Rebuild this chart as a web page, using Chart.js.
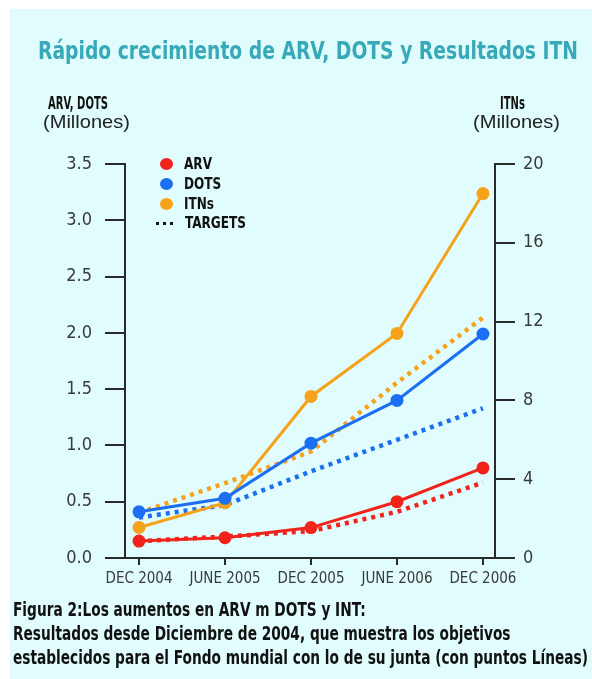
<!DOCTYPE html>
<html>
<head>
<meta charset="utf-8">
<script src="https://cdn.jsdelivr.net/npm/chart.js@4/dist/chart.umd.min.js"></script>
<style>
  html, body { margin: 0; padding: 0; background: #fff; }
  #page { position: absolute; left: 10px; top: 9px; width: 582px; height: 670px; background: #e0fcfc; }
  #wrap { position: absolute; left: 0; top: 0; width: 592px; height: 679px; }
  .t { position: absolute; white-space: nowrap; transform-origin: 0 0; font-family: 'DejaVu Sans Condensed', 'DejaVu Sans', sans-serif; }
  #title { top: 37px; font-size: 24px; font-weight: bold; color: #38a9b9; }
  .ax1 { font-weight: bold; font-size: 17px; color: #111; }
  .ax2 { font-family: 'Liberation Sans', Arial, sans-serif; font-size: 19px; color: #222; }
  .leg { font-weight: bold; font-size: 16px; color: #111; }
  .dot { position: absolute; width: 13px; height: 12px; border-radius: 50%; left: 160px; }
  .cap { font-weight: bold; font-size: 19px; color: #111; }
</style>
</head>
<body>
<div id="page"></div>
<div id="wrap"><canvas id="myChart" width="592" height="679"></canvas></div>

<div class="t" id="title" data-x="38" data-w="540">Rápido crecimiento de ARV, DOTS y Resultados ITN</div>
<div class="t ax1" data-x="48" data-w="60" data-g="ax" style="top:93px">ARV, DOTS</div>
<div class="t ax2" data-x="43" data-w="87" style="top:111px">(Millones)</div>
<div class="t ax1" data-x="500" data-g="ax" style="top:93px">ITNs</div>
<div class="t ax2" data-x="473" data-w="87" style="top:111px">(Millones)</div>

<div class="dot" style="top:158px;background:#f2231b"></div>
<div class="t leg" data-x="184" data-g="leg" style="top:154px">ARV</div>
<div class="dot" style="top:178px;background:#1c6ff2"></div>
<div class="t leg" data-x="184" data-g="leg" style="top:174px">DOTS</div>
<div class="dot" style="top:198px;background:#f7a21b"></div>
<div class="t leg" data-x="184" data-g="leg" style="top:194px">ITNs</div>
<div style="position:absolute;left:156px;top:222px;width:17px;border-top:3px dotted #111"></div>
<div class="t leg" data-x="185" data-w="61" data-g="leg" style="top:213px">TARGETS</div>

<div class="t cap" data-x="13" data-g="cap" style="top:598px">Figura 2:Los aumentos en ARV m DOTS y INT:</div>
<div class="t cap" data-x="13" data-g="cap" style="top:622px">Resultados desde Diciembre de 2004, que muestra los objetivos</div>
<div class="t cap" data-x="13" data-w="575" data-g="cap" style="top:646px">establecidos para el Fondo mundial con lo de su junta (con puntos Líneas)</div>

<script>
const periods = ['DEC 2004', 'JUNE 2005', 'DEC 2005', 'JUNE 2006', 'DEC 2006'];
const arv = [0.15, 0.18, 0.27, 0.50, 0.80];
const dots = [0.41, 0.53, 1.02, 1.40, 1.99];
const itns = [1.55, 2.8, 8.2, 11.4, 18.5];
const arvTarget = [0.15, 0.19, 0.24, 0.41, 0.67];
const dotsTarget = [0.36, 0.47, 0.77, 1.05, 1.33];
const itnsTarget = [2.3, 3.8, 5.4, 8.9, 12.2];

const leftTicks = [0, 0.5, 1.0, 1.5, 2.0, 2.5, 3.0, 3.5];
const rightTicks = [0, 4, 8, 12, 16, 20];

const font = "'DejaVu Sans Condensed', 'DejaVu Sans', sans-serif";
const RED = '#f2231b', BLUE = '#1c6ff2', ORANGE = '#f7a21b';

// squeeze the html labels to the width they have in the picture,
// labels of one group share the scale of the one that has data-w
const groupScale = {};
document.querySelectorAll('[data-w]').forEach(el => {
  const s = el.dataset.w / el.getBoundingClientRect().width;
  if (el.dataset.g) groupScale[el.dataset.g] = s;
  el.dataset.s = s;
});
document.querySelectorAll('.t').forEach(el => {
  el.style.left = el.dataset.x + 'px';
  const s = el.dataset.g ? groupScale[el.dataset.g] : el.dataset.s;
  if (s) el.style.transform = 'scaleX(' + s + ')';
});

function pts(arr) {
  return arr.map((v, i) => ({ x: i, y: v }));
}

function solid(label, arr, color, axis) {
  return {
    label: label, data: pts(arr), yAxisID: axis,
    borderColor: color, backgroundColor: color, borderWidth: 3,
    pointRadius: 6.5, pointHoverRadius: 6.5, pointBorderWidth: 0,
    tension: 0, order: 1
  };
}

function dotted(label, arr, color, axis) {
  return {
    label: label, data: pts(arr), yAxisID: axis,
    borderColor: color, borderWidth: 4.5, borderDash: [4, 5],
    pointRadius: 0, tension: 0, order: 2
  };
}

const ctx = document.getElementById('myChart');
new Chart(ctx, {
  type: 'line',
  data: {
    datasets: [
      dotted('ARV target', arvTarget, RED, 'y'),
      dotted('DOTS target', dotsTarget, BLUE, 'y'),
      dotted('ITNs target', itnsTarget, ORANGE, 'y2'),
      solid('ARV', arv, RED, 'y'),
      solid('DOTS', dots, BLUE, 'y'),
      solid('ITNs', itns, ORANGE, 'y2')
    ]
  },
  options: {
    responsive: false,
    animation: false,
    layout: { padding: { left: 0, right: 0, top: 164, bottom: 81 } },
    plugins: { legend: { display: false }, tooltip: { enabled: false } },
    scales: {
      x: {
        type: 'linear', min: -0.163, max: 4.14,
        afterFit: s => { s.height = 40; },
        border: { display: true, color: '#2a2a2a', width: 2 },
        grid: { drawOnChartArea: false, drawTicks: true, tickLength: 7, color: '#2a2a2a', lineWidth: 2 },
        afterBuildTicks: s => { s.ticks = periods.map((p, i) => ({ value: i })); },
        ticks: {
          autoSkip: false, maxRotation: 0, padding: 5, color: '#3a3a3a',
          font: { family: font, size: 15 },
          callback: v => periods[v]
        }
      },
      y: {
        position: 'left', min: 0, max: 3.5,
        afterFit: s => { s.width = 125; },
        afterBuildTicks: s => { s.ticks = leftTicks.map(v => ({ value: v })); },
        border: { display: true, color: '#2a2a2a', width: 2 },
        grid: { drawOnChartArea: false, drawTicks: true, tickLength: 20, color: '#2a2a2a', lineWidth: 2 },
        ticks: {
          padding: 13, color: '#3a3a3a', font: { family: font, size: 18 },
          callback: v => v.toFixed(1)
        }
      },
      y2: {
        position: 'right', min: 0, max: 20,
        afterFit: s => { s.width = 97; },
        afterBuildTicks: s => { s.ticks = rightTicks.map(v => ({ value: v })); },
        border: { display: true, color: '#2a2a2a', width: 2 },
        grid: { drawOnChartArea: false, drawTicks: true, tickLength: 20, color: '#2a2a2a', lineWidth: 2 },
        ticks: {
          padding: 8, color: '#3a3a3a', font: { family: font, size: 18 },
          callback: v => String(v)
        }
      }
    }
  }
});
</script>
</body>
</html>
